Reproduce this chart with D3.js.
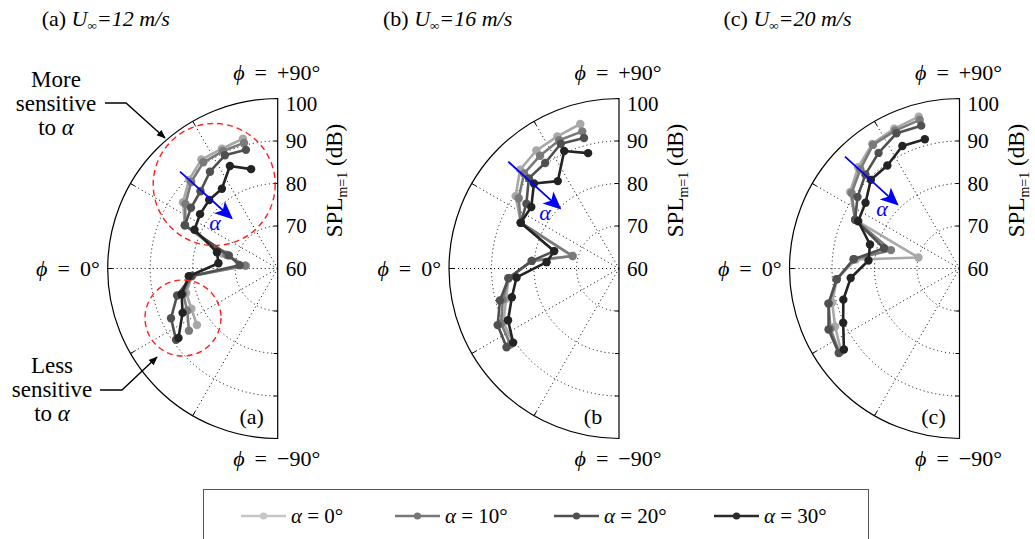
<!DOCTYPE html>
<html><head><meta charset="utf-8">
<script src="https://cdn.jsdelivr.net/npm/d3@7"></script>
<style>
body{margin:0;background:#fff}
text{font-family:"Liberation Serif","Times New Roman","DejaVu Serif",serif;fill:#000}
</style>
</head><body>
<svg id="chart" width="1035" height="539"></svg>
<script>
// ---------------- data ----------------
const phi = [75, 65, 55, 45, 35, 25, 15, 5, -5, -15, -25, -35];   // degrees
const radialTicks = [100, 90, 80, 70, 60];
const gridRings = [70, 80, 90];
const gridAngles = [60, 30, 0, -30, -60];
const alphaLabels = ["0°", "10°", "20°", "30°"];
const speeds = ["12", "16", "20"];
const panelTags = ["a", "b", "c"];
const cornerTags = ["(a)", "(b", "(c)"];

// U = 12 m/s
const u12_a0  = [91.6, 91.1, 91.3, 89.5, 87.2, 84.1, 73.5, 67.5, 80.3, 82.3, 82.4, 83.2];
const u12_a10 = [90.6, 90.5, 90.5, 88.8, 86.5, 84.1, 72.5, 67.7, 80.3, 83.0, 83.5, 85.5];
const u12_a20 = [88.9, 89.4, 87.8, 85.7, 84.9, 84.1, 71.9, 69.0, 80.3, 84.5, 87.7, 89.2];
const u12_a30 = [84.2, 86.6, 82.9, 82.8, 82.3, 81.6, 74.8, 74.0, 81.0, 83.4, 84.7, 88.5];
// U = 16 m/s
const u16_a0  = [95.2, 94.3, 93.9, 92.9, 89.7, 85.5, 71.3, 80.6, 86.1, 87.5, 90.0, 90.5];
const u16_a10 = [93.4, 93.3, 92.4, 91.6, 88.8, 85.5, 71.3, 80.6, 86.1, 88.3, 90.6, 91.2];
const u16_a20 = [91.8, 92.4, 90.3, 90.0, 86.6, 85.5, 75.8, 80.6, 86.1, 89.0, 91.5, 92.3];
const u16_a30 = [88.1, 90.5, 85.1, 88.3, 85.2, 85.5, 75.8, 77.1, 84.2, 86.1, 88.8, 90.4];
// U = 20 m/s
const u20_a0  = [97.0, 96.3, 95.8, 93.7, 91.4, 87.1, 70.0, 84.5, 89.0, 91.0, 92.3, 94.0];
const u20_a10 = [96.2, 95.8, 95.5, 93.0, 91.0, 87.1, 76.7, 85.0, 89.0, 91.9, 93.5, 94.5];
const u20_a20 = [94.8, 95.1, 93.2, 91.3, 89.3, 87.1, 78.4, 85.0, 89.0, 91.9, 94.0, 94.7];
const u20_a30 = [91.5, 91.8, 89.6, 89.5, 87.0, 86.3, 81.8, 81.5, 85.7, 88.3, 90.2, 93.2];

const panels = [
  [u12_a0, u12_a10, u12_a20, u12_a30],
  [u16_a0, u16_a10, u16_a20, u16_a30],
  [u20_a0, u20_a10, u20_a20, u20_a30]
];

// ---------------- layout / style ----------------
const colors = ["#a8a8a8", "#7a7a7a", "#505050", "#232323"];
const legendColors = ["#c6c6c6", "#777777", "#505050", "#2a2a2a"];
const centersX = [277.7, 619, 959.5];
const centerY = 268.5;
const R = 170;

const svg = d3.select("#chart");
const defs = svg.append("defs");
defs.append("marker").attr("id", "blk").attr("viewBox", "0 0 10 10")
  .attr("refX", 9).attr("refY", 5).attr("markerWidth", 9).attr("markerHeight", 9)
  .attr("markerUnits", "userSpaceOnUse").attr("orient", "auto")
  .append("path").attr("d", "M0,1 L10,5 L0,9 z").attr("fill", "#000");
defs.append("marker").attr("id", "blu").attr("viewBox", "0 0 10 10")
  .attr("refX", 9).attr("refY", 5).attr("markerWidth", 18).attr("markerHeight", 18)
  .attr("markerUnits", "userSpaceOnUse").attr("orient", "auto")
  .append("path").attr("d", "M0,0.5 L10,5 L0,9.5 L2.5,5 z").attr("fill", "#0000ff");

const r = d3.scaleLinear().domain([60, 100]).range([0, R]);
const a = d3.scaleLinear().domain([-90, 90]).range([-Math.PI, 0]);
const xy = (p, v) => [-r(v) * Math.cos(p * Math.PI / 180), -r(v) * Math.sin(p * Math.PI / 180)];

function phiLabel(g, x, y, anchor, value) {
  const t = g.append("text").attr("x", x).attr("y", y).attr("dy", "0.35em")
    .attr("text-anchor", anchor).attr("font-size", 22);
  t.append("tspan").attr("font-style", "italic").text("ϕ");
  t.append("tspan").attr("dx", 10).text("=");
  t.append("tspan").attr("dx", 10).text(value);
}

panels.forEach((series, pi) => {
  const g = svg.append("g").attr("transform", `translate(${centersX[pi]},${centerY})`);

  // rings
  gridRings.forEach(v => {
    const p = d3.path();
    p.moveTo(0, -r(v));
    p.arc(0, 0, r(v), -Math.PI / 2, Math.PI / 2, true);
    g.append("path").attr("d", p.toString()).attr("fill", "none")
      .attr("stroke", "#000").attr("stroke-width", 1).attr("stroke-dasharray", "1,3");
  });
  // radial dotted lines
  gridAngles.forEach(ang => {
    const [x, y] = xy(ang, 100);
    g.append("line").attr("x1", 0).attr("y1", 0).attr("x2", x).attr("y2", y)
      .attr("stroke", "#000").attr("stroke-width", 1).attr("stroke-dasharray", "1,3");
    const [xi, yi] = [x * (R - 5) / R, y * (R - 5) / R];
    g.append("line").attr("x1", xi).attr("y1", yi).attr("x2", x).attr("y2", y)
      .attr("stroke", "#000").attr("stroke-width", 1);
  });
  // outer half circle + diameter
  const arc = d3.arc().innerRadius(0).outerRadius(R).startAngle(-Math.PI).endAngle(0);
  g.append("path").attr("d", arc()).attr("fill", "none").attr("stroke", "#000").attr("stroke-width", 1.2);
  // ticks on diameter
  gridRings.forEach(v => {
    [-1, 1].forEach(s => {
      g.append("line").attr("x1", -4).attr("x2", 0).attr("y1", s * r(v)).attr("y2", s * r(v))
        .attr("stroke", "#000").attr("stroke-width", 1);
    });
  });
  // radial tick labels
  radialTicks.forEach(v => {
    g.append("text").attr("x", 8).attr("y", -r(v) + (v === 100 ? 5 : 0)).attr("dy", "0.35em")
      .attr("font-size", 21).text(v);
  });

  // series
  const line = d3.lineRadial().angle(d => a(d[0])).radius(d => r(d[1]));
  series.forEach((vals, si) => {
    const pts = phi.map((p, i) => [p, vals[i]]);
    g.append("path").attr("d", line(pts)).attr("fill", "none")
      .attr("stroke", colors[si]).attr("stroke-width", 2.6).attr("stroke-linejoin", "round");
    g.selectAll(null).data(pts).enter().append("circle")
      .attr("cx", d => xy(d[0], d[1])[0]).attr("cy", d => xy(d[0], d[1])[1])
      .attr("r", 4.2).attr("fill", colors[si]);
  });

  // angle labels
  phiLabel(g, -1, -R - 26, "middle", "+90°");
  phiLabel(g, -1, R + 20, "middle", "−90°");
  phiLabel(g, -R - 8, 0, "end", "0°");

  // radial axis title
  const t = g.append("text").attr("transform", `translate(64,-88) rotate(-90)`)
    .attr("text-anchor", "middle").attr("font-size", 23);
  t.append("tspan").text("SPL");
  t.append("tspan").attr("font-size", 14).attr("dy", 5).text("m=1");
  t.append("tspan").attr("dy", -5).text(" (dB)");

  // corner tag
  g.append("text").attr("x", -26).attr("y", 148).attr("dy", "0.35em").attr("text-anchor", "middle")
    .attr("font-size", 22).text(cornerTags[pi]);

  // panel title
  const tt = svg.append("text").attr("x", centersX[pi] - 236).attr("y", 26).attr("font-size", 22);
  tt.append("tspan").text(`(${panelTags[pi]}) `);
  tt.append("tspan").attr("font-style", "italic").text("U");
  tt.append("tspan").attr("font-style", "italic").attr("font-size", 13).attr("dy", 4).text("∞");
  tt.append("tspan").attr("font-style", "italic").attr("dy", -4).text(`=${speeds[pi]} m/s`);
});

// blue alpha arrows
const blueArrows = [
  [[180, 171.7], [231.5, 218], [215, 222]],
  [[508.3, 161.7], [560, 208.3], [545, 212]],
  [[845, 156.7], [897.3, 204.3], [882, 208]]
];
blueArrows.forEach(([s, e, t]) => {
  svg.append("line").attr("x1", s[0]).attr("y1", s[1]).attr("x2", e[0]).attr("y2", e[1])
    .attr("stroke", "#0000ff").attr("stroke-width", 1.8).attr("marker-end", "url(#blu)");
  svg.append("text").attr("x", t[0]).attr("y", t[1]).attr("dy", "0.35em").attr("text-anchor", "middle")
    .attr("font-size", 22).attr("font-style", "italic").style("fill", "#0000ff").text("α");
});

// red dashed circles (panel a)
[[214.2, 184.5, 61], [183, 318, 38]].forEach(([x, y, rr]) => {
  svg.append("circle").attr("cx", x).attr("cy", y).attr("r", rr).attr("fill", "none")
    .attr("stroke", "#ff2020").attr("stroke-width", 1.4).attr("stroke-dasharray", "6,4");
});

// annotations
const ann = [
  {lines: ["More", "sensitive", "to "], x: 56, y: [79, 103, 127], path: [[105, 103], [126, 103], [165, 138]]},
  {lines: ["Less", "sensitive", "to "], x: 52, y: [365, 389, 413], path: [[100, 390], [122, 390], [157, 357]]}
];
ann.forEach(o => {
  o.lines.forEach((l, i) => {
    const t = svg.append("text").attr("x", o.x).attr("y", o.y[i]).attr("dy", "0.35em")
      .attr("text-anchor", "middle").attr("font-size", 23).text(l);
    if (i === 2) t.append("tspan").attr("font-style", "italic").text("α");
  });
  svg.append("path").attr("d", d3.line()(o.path)).attr("fill", "none").attr("stroke", "#000")
    .attr("stroke-width", 1.4).attr("marker-end", "url(#blk)");
});

// legend
svg.append("rect").attr("x", 203.5).attr("y", 489.5).attr("width", 665).attr("height", 60)
  .attr("fill", "#fff").attr("stroke", "#555").attr("stroke-width", 1);
const legX = [241, 395, 554, 714];
alphaLabels.forEach((lab, i) => {
  const x0 = legX[i], y0 = 516;
  svg.append("line").attr("x1", x0).attr("x2", x0 + 45).attr("y1", y0).attr("y2", y0)
    .attr("stroke", legendColors[i]).attr("stroke-width", 2.6);
  svg.append("circle").attr("cx", x0 + 22.5).attr("cy", y0).attr("r", 3.6).attr("fill", legendColors[i]);
  svg.append("text").attr("x", x0 + 50).attr("y", y0).attr("dy", "0.35em").attr("font-size", 21)
    .html(`<tspan font-style="italic">α</tspan> = ${lab}`);
});
</script>
</body></html>
